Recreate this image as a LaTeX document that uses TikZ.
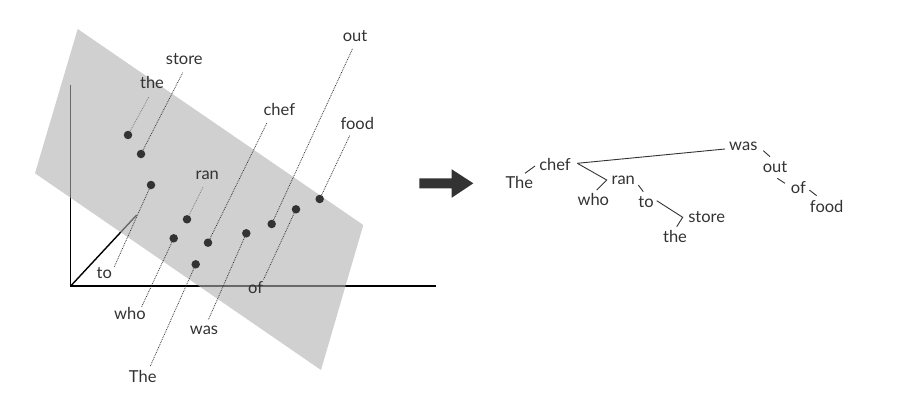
\documentclass[tikz,border=0pt]{standalone}
\usepackage{fontspec}
\setmainfont{Lato}
\definecolor{ink}{HTML}{333333}
\definecolor{planec}{HTML}{B0B0B0}
\pgfdeclarelayer{back}
\pgfdeclarelayer{planelayer}
\pgfsetlayers{back,planelayer,main}
\begin{document}
\begin{tikzpicture}[x=1pt,y=-1pt,
  word/.style={inner sep=0pt,text=ink,font=\fontsize{16.5}{19}\selectfont},
  dot/.style={circle,fill=ink,inner sep=0pt,minimum size=8.5pt},
  lead/.style={densely dotted,line width=0.8pt,draw=ink},
  leadback/.style={densely dotted,line width=0.8pt,draw=ink},
  axis/.style={line width=1.4pt,draw=black},
  tree/.style={line width=0.9pt,draw=ink}]
\useasboundingbox (0,0) rectangle (919,404);
% dots
\node[dot] (d1) at (128,135) {};
\node[dot] (d2) at (141,154) {};
\node[dot] (d3) at (151,185) {};
\node[dot] (d4) at (187,219.3) {};
\node[dot] (d5) at (173.7,238.3) {};
\node[dot] (d6) at (208,242.7) {};
\node[dot] (d7) at (195.7,264.3) {};
\node[dot] (d8) at (246.3,233.3) {};
\node[dot] (d9) at (271.7,224) {};
\node[dot] (d10) at (296,209.3) {};
\node[dot] (d11) at (319.7,199) {};
% labels
\node[word] (lthe) at (152,82.7) {the};
\node[word] (lstore) at (184.3,59) {store};
\node[word] (lto) at (104.3,273.3) {to};
\node[word] (lran) at (207.3,175.3) {ran};
\node[word] (lwho) at (130,313.3) {who};
\node[word] (lchef) at (279.3,109.3) {chef};
\node[word] (lThe) at (142.7,376) {The};
\node[word] (lwas) at (204,330) {was};
\node[word] (lout) at (355,36) {out};
\node[word] (lof) at (255.7,287.7) {of};
\node[word] (lfood) at (357.3,123.3) {food};
% axes and leaders behind plane
\begin{pgfonlayer}{back}
\coordinate (O) at (70.7,286);
\coordinate (yend) at (70.7,85);
\coordinate (xend) at (435.7,286);
\coordinate (zend) at (136.7,215);
\draw[axis] (yend) -- (O) -- (xend);
\draw[axis] (O) -- (zend);
\draw[leadback] (d1) -- ([shift={(-3,14)}]lthe.center);
\draw[leadback] (d4) -- ([shift={(-4,11.4)}]lran.center);
\end{pgfonlayer}
% plane
\begin{pgfonlayer}{planelayer}
\fill[planec,fill opacity=0.6] (77.7,29) -- (35,173.3) -- (321,370) -- (363.3,225) -- cycle;
\end{pgfonlayer}
% front leaders
\draw[lead] (d2) -- ([shift={(-1.6,13.7)}]lstore.center);
\draw[lead] (d3) -- ([shift={(10,-6.6)}]lto.center);
\draw[lead] (d5) -- ([shift={(11.7,-6.6)}]lwho.center);
\draw[lead] (d6) -- ([shift={(-12.6,14)}]lchef.center);
\draw[lead] (d7) -- ([shift={(7.3,-9.3)}]lThe.center);
\draw[lead] (d8) -- ([shift={(4.3,-10)}]lwas.center);
\draw[lead] (d9) -- ([shift={(-2.3,12.3)}]lout.center);
\draw[lead] (d10) -- ([shift={(7.6,-7.7)}]lof.center);
\draw[lead] (d11) -- ([shift={(-7.3,11.7)}]lfood.center);
% arrow
\coordinate (a1) at (473.3,183.3);
\fill[ink] (419.3,178.3) -- (451.7,178.3) -- (451.7,169.3) -- (a1) -- (451.7,197.7) -- (451.7,188.3) -- (419.3,188.3) -- cycle;
% tree
\node[word] (tThe) at (519.3,182.7) {The};
\node[word] (tchef) at (555,164.3) {chef};
\node[word] (twas) at (743.3,146.7) {was};
\node[word] (tran) at (623.3,180.7) {ran};
\node[word] (twho) at (593.3,199) {who};
\node[word] (tto) at (646,201.7) {to};
\node[word] (tstore) at (706.7,217.3) {store};
\node[word] (tthe) at (675,236.7) {the};
\node[word] (tout) at (775,166.7) {out};
\node[word] (tof) at (798.3,187.3) {of};
\node[word] (tfood) at (826.7,206) {food};
\coordinate (jran) at ([shift={(-16.6,-0.7)}]tran.center);
\coordinate (jstore) at ([shift={(-24,0)}]tstore.center);
\draw[tree] ([shift={(5.7,-9.4)}]tThe.center) -- ([shift={(-20,1.7)}]tchef.center);
\draw[tree] ([shift={(22.3,-1)}]tchef.center) -- ([shift={(-18.3,2.3)}]twas.center);
\draw[tree] ([shift={(22.3,-1)}]tchef.center) -- (jran) -- ([shift={(3.4,-9)}]twho.center);
\draw[tree] ([shift={(15,4.3)}]tran.center) -- ([shift={(-2.7,-10)}]tto.center);
\draw[tree] ([shift={(10.7,-1)}]tto.center) -- (jstore) -- ([shift={(1.7,-10)}]tthe.center);
\draw[tree] ([shift={(20,4)}]twas.center) -- ([shift={(-5,-10)}]tout.center);
\draw[tree] ([shift={(2.3,11.6)}]tout.center) -- ([shift={(-13.3,-4)}]tof.center);
\draw[tree] ([shift={(11,2.7)}]tof.center) -- ([shift={(-10,-10.3)}]tfood.center);
\end{tikzpicture}
\end{document}
